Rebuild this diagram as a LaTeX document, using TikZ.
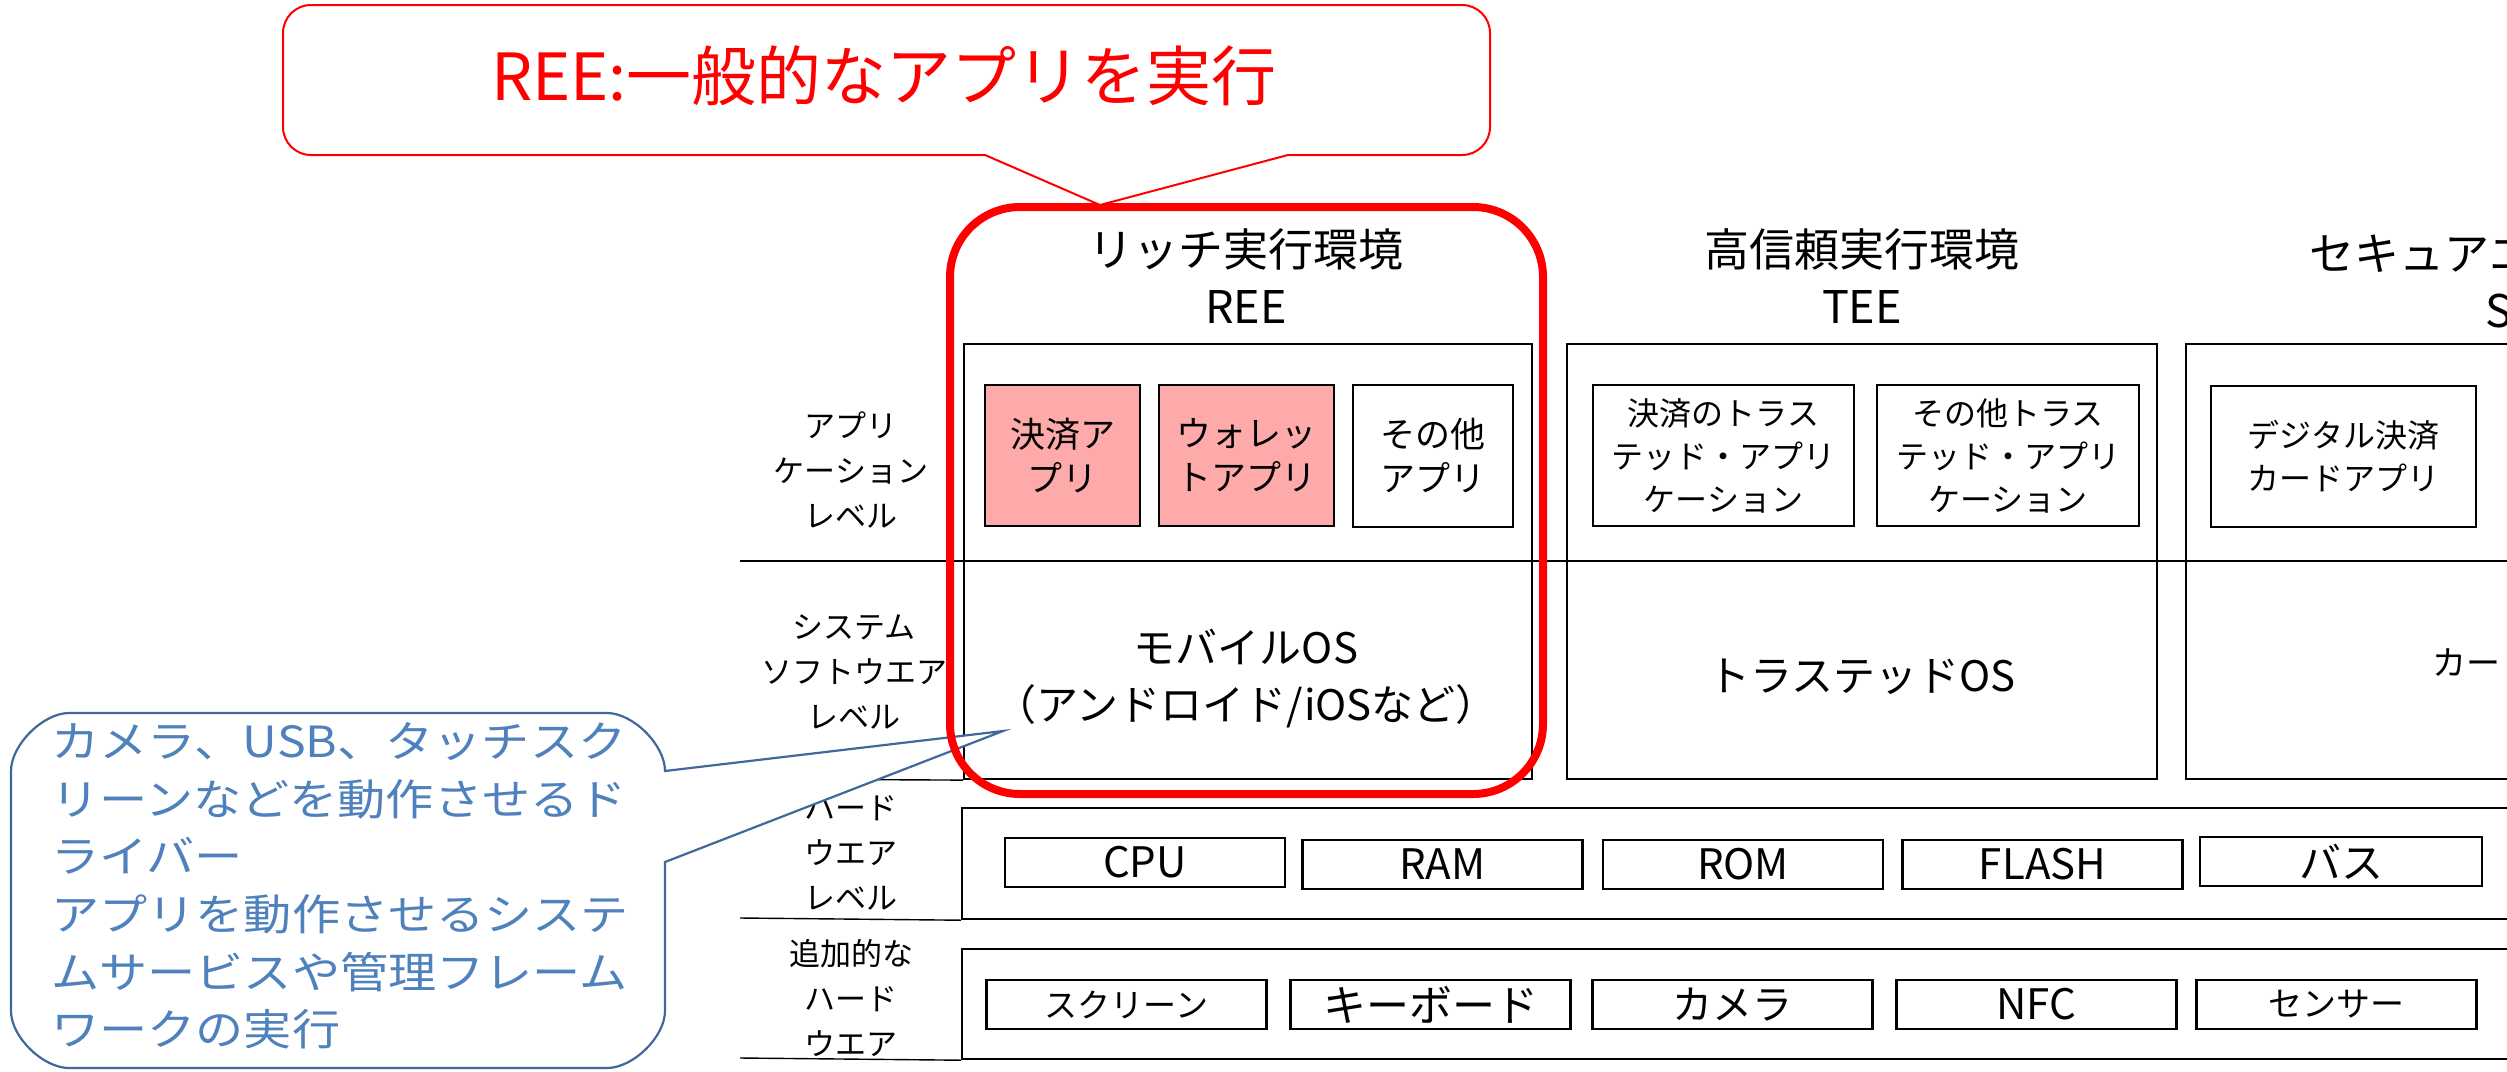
\documentclass[tikz,border=0pt]{standalone}
\usepackage{fontspec}
\setmainfont{Noto Sans CJK JP}
\newfontfamily\callfont{Noto Sans CJK JP}[FakeStretch=1.12]
\definecolor{paypink}{RGB}{255,170,170}
\definecolor{textblue}{RGB}{79,129,189}
\definecolor{calloutblue}{RGB}{65,104,154}
\begin{document}
\begin{tikzpicture}[x=1pt,y=-1pt,
  frame/.style={draw=black, line width=2.2, inner sep=0pt},
  appbox/.style={frame, align=center, font=\fontsize{35}{44}\selectfont},
  tapp/.style={frame, align=center, font=\fontsize{32}{43}\selectfont},
  hwbox/.style={frame, minimum height=49, minimum width=280},
  hwlatin/.style={font=\fontsize{42}{42}\selectfont},
  lvl/.style={align=center, inner sep=0pt, font=\fontsize{31}{45}\selectfont},
  ttl/.style={align=center, inner sep=0pt, font=\fontsize{45}{57}\selectfont},
  osl/.style={align=center, inner sep=0pt, font=\fontsize{42}{57}\selectfont},
  divider/.style={draw=black, line width=1.4},
  pay/.style={fill=paypink},
  bluecallout/.style={draw=calloutblue, line width=2.2, fill=white},
  redcallout/.style={draw=red, line width=2, fill=white},
]
\useasboundingbox (0,0) rectangle (2507,1071);
\clip (0,0) rectangle (2507,1071);
\fill[white] (0,0) rectangle (2507,1071);

% level labels
\node[lvl] (lApp) at (851,470) {アプリ\\ケーション\\レベル};
\node[lvl] (lSys) at (854,672) {システム\\ソフトウエア\\レベル};
\node[lvl] (lHw) at (851,853) {ハード\\ウエア\\レベル};
\node[lvl] (lAdd) at (851,998) {追加的な\\ハード\\ウエア};

% titles
\node[ttl] (tRee) at (1246,276) {リッチ実行環境\\REE};
\node[ttl] (tTee) at (1862,276) {高信頼実行環境\\TEE};
\node[ttl] (tSe) at (2512,281) {セキュアエレメント\\SE};

% column boxes
\node[frame, minimum width=568, minimum height=435] (reeCol) at (1248,561.5) {};
\node[frame, minimum width=590, minimum height=435] (teeCol) at (1862,561.5) {};
\node[frame, minimum width=590, minimum height=435] (seCol) at (2481,561.5) {};

% dividers
\coordinate (dAppL) at (740,561);
\coordinate (dAppR) at (2530,561);
\draw[divider] (dAppL) -- (dAppR);
\coordinate (dSysL) at (740,779);
\draw[divider] (dSysL) -- (reeCol.south west);

% hardware bands
\node[frame, minimum width=1700, minimum height=111, anchor=north west] (hwBox) at (961,807) {};
\node[frame, minimum width=1700, minimum height=110, anchor=north west] (addBox) at (961,948) {};
\coordinate (dHwL) at (740,918);
\coordinate (dAddL) at (740,1058);
\draw[divider] (dHwL) -- (hwBox.south west);
\draw[divider] (dAddL) -- (addBox.south west);

% application level boxes
\node[appbox, pay, minimum width=155, minimum height=141] (aPay) at (1062.5,455.5) {決済ア\\プリ};
\node[appbox, pay, minimum width=175, minimum height=141] (aWallet) at (1246.5,455.5) {ウォレッ\\トアプリ};
\node[appbox, minimum width=160, minimum height=142] (aOther) at (1433,456) {その他\\アプリ};
\node[tapp, minimum width=261, minimum height=141] (tPay) at (1723.5,455.5) {決済のトラス\\テッド・アプリ\\ケーション};
\node[tapp, minimum width=262, minimum height=141] (tOther) at (2008,455.5) {その他トラス\\テッド・アプリ\\ケーション};
\node[tapp, minimum width=265, minimum height=141] (sCard) at (2343.5,456.5) {デジタル決済\\カードアプリ};

% system level
\node[osl] (mos) at (1246,679) {モバイルOS\\（アンドロイド/iOSなど）};
\node[osl] (tos) at (1862,677) {トラステッドOS};
\node[anchor=west, inner sep=0pt, font=\fontsize{34}{34}\selectfont] (cos) at (2432,663) {カードOS};

% hardware items
\node[hwbox, hwlatin] (hCpu) at (1145,862.5) {CPU};
\node[hwbox, hwlatin] (hRam) at (1442.5,864.5) {RAM};
\node[hwbox, hwlatin] (hRom) at (1743,864.5) {ROM};
\node[hwbox, hwlatin] (hFlash) at (2042.5,864.5) {FLASH};
\node[hwbox, minimum width=282, font=\fontsize{42}{42}\selectfont] (hBus) at (2341,861.5) {バス};
\node[hwbox, font=\fontsize{33}{33}\selectfont] (xScr) at (1126.5,1004.5) {スクリーン};
\node[hwbox, font=\fontsize{43}{43}\selectfont] (xKey) at (1430.5,1004.5) {キーボード};
\node[hwbox, font=\fontsize{40}{40}\selectfont] (xCam) at (1732.5,1004.5) {カメラ};
\node[hwbox, hwlatin] (xNfc) at (2036.5,1004.5) {NFC};
\node[hwbox, font=\fontsize{34}{34}\selectfont] (xSen) at (2336.5,1004.5) {センサー};

% blue callout
\coordinate (bTip) at (1003,731);
\draw[bluecallout] (665,771) -- (bTip) -- (665,862) -- (665,1011)
  .. controls (665,1037) and (633,1068) .. (607,1068) -- (69,1068)
  .. controls (43,1068) and (11,1037) .. (11,1011) -- (11,771)
  .. controls (11,745) and (43,713) .. (69,713) -- (607,713)
  .. controls (633,713) and (665,745) .. (665,771) -- cycle;
\node[anchor=west, align=left, inner sep=0pt, text=textblue,
  font=\callfont\fontsize{43}{57.6}\selectfont] (bText) at (51,886)
  {カメラ、USB、タッチスク\\リーンなどを動作させるド\\ライバー\\アプリを動作させるシステ\\ムサービスや管理フレーム\\ワークの実行};

% red REE frame
\node[draw=red, line width=8, rounded corners=70, minimum width=593, minimum height=587, inner sep=0pt] (reeFrame) at (1246.5,500.5) {};

% red callout
\coordinate (rTip) at (1100,205);
\draw[redcallout] (985,155) -- (311,155)
  .. controls (295.5,155) and (283,142.5) .. (283,127) -- (283,33)
  .. controls (283,17.5) and (295.5,5) .. (311,5) -- (1462,5)
  .. controls (1477.5,5) and (1490,17.5) .. (1490,33) -- (1490,127)
  .. controls (1490,142.5) and (1477.5,155) .. (1462,155) -- (1288,155) -- (rTip) -- cycle;
\node[text=red, inner sep=0pt, font=\fontsize{65}{65}\selectfont] (rText) at (884,76) {REE:一般的なアプリを実行};
\end{tikzpicture}
\end{document}
